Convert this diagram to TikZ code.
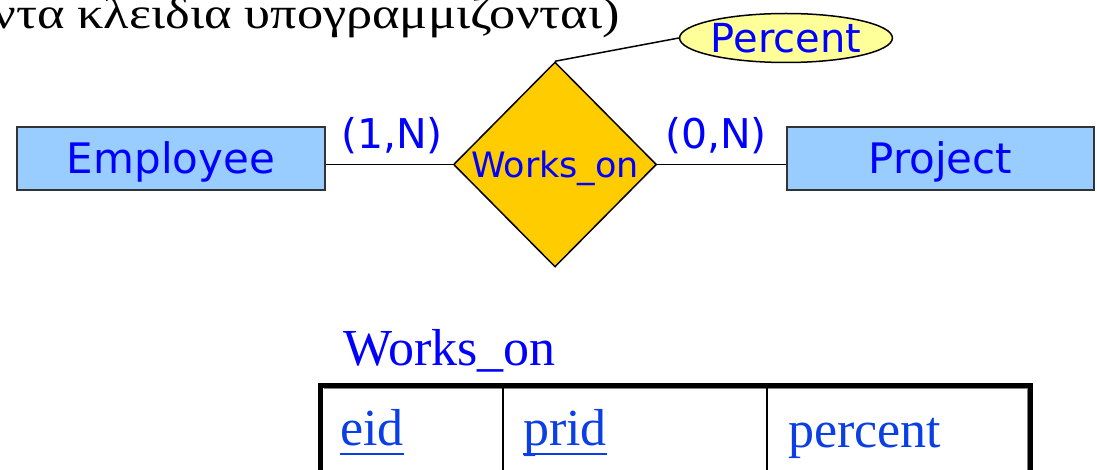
\documentclass[tikz,border=0pt]{standalone}
\usepackage{fontspec}
\setmainfont{Liberation Serif}
\newfontfamily\dv{DejaVu Sans}
\newfontfamily\greekwide[FakeStretch=1.19]{Liberation Serif}
\usetikzlibrary{shapes.geometric}
\definecolor{entfill}{HTML}{99CCFF}
\definecolor{relfill}{HTML}{FFCC00}
\definecolor{attfill}{HTML}{FFFF99}
\definecolor{txtblue}{HTML}{0000FF}
\definecolor{tblblue}{HTML}{0A3EE6}
\definecolor{bordergray}{HTML}{333333}
\tikzset{
  entity/.style={draw=bordergray, line width=1.5pt, fill=entfill, minimum width=308pt, minimum height=63pt, inner sep=0pt, text=txtblue, font=\dv\fontsize{42}{48}\selectfont, text height=30.6pt, text depth=0pt},
  relship/.style={diamond, draw=black, line width=1.5pt, fill=relfill, minimum width=203pt, minimum height=205pt, inner sep=0pt},
  attrib/.style={ellipse, draw=black, line width=1.5pt, fill=attfill, minimum width=206pt, minimum height=49pt, inner sep=0pt, text=txtblue, font=\dv\fontsize{40}{46}\selectfont, text height=29.2pt, text depth=0pt},
  card/.style={inner sep=0pt, text=txtblue, font=\dv\fontsize{41}{46}\selectfont},
  conn/.style={draw=black, line width=1.5pt},
  tbltext/.style={inner sep=0pt, text=tblblue, font=\fontsize{52}{58}\selectfont, anchor=base west},
  uline/.style={draw=tblblue, line width=2.5pt},
}
\begin{document}
\begin{tikzpicture}[x=1pt,y=1pt]
\useasboundingbox (0,0) rectangle (1097,-470);
\clip (0,0) rectangle (1097,-470);
\fill[white] (0,0) rectangle (1097,-470);
% heading text (cut off on the left)
\node[inner sep=0pt, anchor=base east, font=\greekwide\fontsize{44}{50}\selectfont] (head) at (620,-29) {ντα κλειδια υπογραμμιζονται)};
% ER diagram
\node[entity] (emp) at (171,-158.5) {Employee};
\node[entity, minimum width=307pt] (proj) at (940.5,-158.5) {Project};
\node[relship] (rel) at (555,-164.5) {};
\node[inner sep=0pt, text=txtblue, font=\dv\fontsize{35}{40}\selectfont, text height=25.5pt, text depth=0pt] (reltxt) at (555,-165) {Works\_on};
\node[attrib] (pct) at (786,-38) {Percent};
\draw[conn] (emp.east |- rel.west) -- (rel.west);
\draw[conn] (rel.east) -- (proj.west |- rel.east);
\draw[conn] (rel.north) -- (pct.west);
\node[card] (c1) at (392,-136) {(1,N)};
\node[card] (c2) at (716,-136) {(0,N)};
% relation table
\node[inner sep=0pt, anchor=base west, text=txtblue, font=\fontsize{52}{58}\selectfont] (ttl) at (343,-365) {Works\_on};
\coordinate (tl) at (320.5,-385.5);
\coordinate (tr) at (1030,-385.5);
\coordinate (bl) at (320.5,-520);
\coordinate (br) at (1030,-520);
\draw[gray, line width=1pt] (323.5,-388.5) -- (1027,-388.5) -- (1027,-520);
\draw[black, line width=5pt] (bl) -- (tl) -- (tr) -- (br);
\coordinate (c1t) at (503,-385.5);
\coordinate (c1b) at (503,-520);
\coordinate (c2t) at (767,-385.5);
\coordinate (c2b) at (767,-520);
\draw[black, line width=2pt] (c1t) -- (c1b);
\draw[black, line width=2pt] (c2t) -- (c2b);
\node[tbltext] (eid) at (340,-445) {eid};
\node[tbltext] (prid) at (523,-445) {prid};
\node[tbltext] (percent) at (788,-447) {percent};
\draw[uline] ([yshift=-9pt]eid.base west) -- ([yshift=-9pt]eid.base east);
\draw[uline] ([yshift=-9pt]prid.base west) -- ([yshift=-9pt]prid.base east);
\end{tikzpicture}
\end{document}
